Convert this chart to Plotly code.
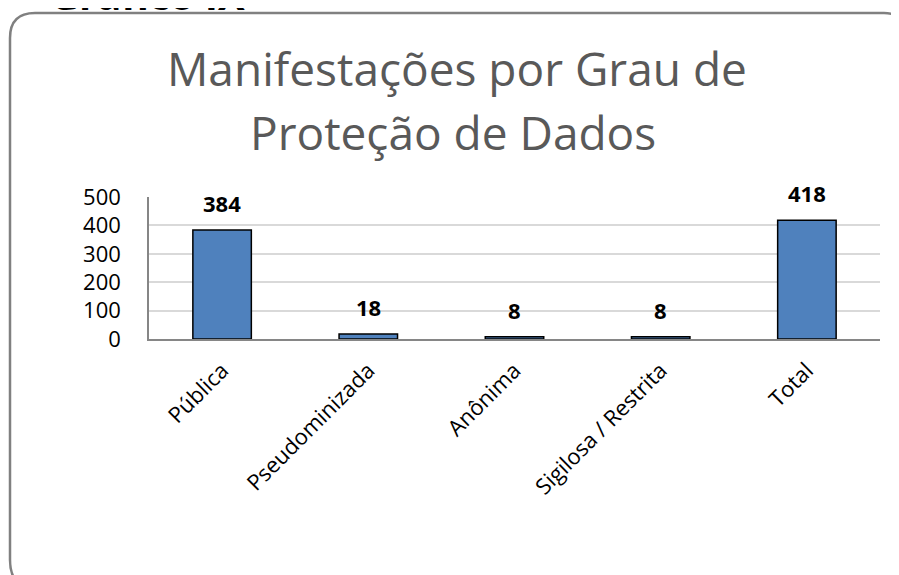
import plotly.graph_objects as go

# Data
categorias = ["Pública", "Pseudominizada", "Anônima", "Sigilosa / Restrita", "Total"]
valores = [384, 18, 8, 8, 418]
ticks_y = [0, 100, 200, 300, 400, 500]

# the page puts the plot 8px in from the top-left, so the figure is 8px smaller
OFF = 8
W, H = 899 - OFF, 575 - OFF
L, R, T, B = 149 - OFF, 19, 197 - OFF, 236
FONT = "Open Sans"


# page pixel -> paper coordinates (paper = plot area)
def px(x):
    return (x - OFF - L) / (W - L - R)


def py(y):
    return (H - B - (y - OFF)) / (H - T - B)


fig = go.Figure()

fig.add_trace(go.Bar(
    x=categorias,
    y=valores,
    width=0.4,
    marker=dict(color="#4F81BD", line=dict(color="#000000", width=1.5)),
    hoverinfo="x+y",
))

# value labels above bars
for c, v in zip(categorias, valores):
    fig.add_annotation(x=c, y=v, text="<b>%d</b>" % v, showarrow=False,
                       yanchor="bottom", yshift=10,
                       font=dict(family=FONT, size=22, color="#000000"))

# title, two lines
fig.add_annotation(xref="paper", yref="paper", x=px(457), y=py(68),
                   text="Manifestações por Grau de", showarrow=False,
                   xanchor="center", yanchor="middle",
                   font=dict(family=FONT, size=46, color="#595959"))
fig.add_annotation(xref="paper", yref="paper", x=px(453), y=py(132),
                   text="Proteção de Dados", showarrow=False,
                   xanchor="center", yanchor="middle",
                   font=dict(family=FONT, size=46, color="#595959"))

# heading cut off at the top of the page
fig.add_annotation(xref="paper", yref="paper", x=px(48), y=py(24),
                   text="<b>Gráfico IX</b>", showarrow=False,
                   xanchor="left", yanchor="bottom",
                   font=dict(family=FONT, size=40, color="#000000"))

# rounded frame around the chart (page pixels)
x0, x1, y0, y1 = 10, 906, 13, 590
r1, r2, r3 = 25, 22, 30
path = ("M {p0x},{p0y} Q {x0},{y0} {p1x},{y0} L {p2x},{y0} Q {x1},{y0} {x1},{p3y} "
        "L {x1},{y1} L {p4x},{y1} Q {x0},{y1} {x0},{p5y} Z").format(
    x0=px(x0), y0=py(y0), x1=px(x1), y1=py(y1),
    p0x=px(x0), p0y=py(y0 + r1), p1x=px(x0 + r1),
    p2x=px(x1 - r2), p3y=py(y0 + r2),
    p4x=px(x0 + r3), p5y=py(y1 - r3))
fig.add_shape(type="path", xref="paper", yref="paper", path=path,
              line=dict(color="#808080", width=2.5), layer="below")

fig.update_layout(
    width=W, height=H,
    margin=dict(l=L, r=R, t=T, b=B),
    paper_bgcolor="white",
    plot_bgcolor="white",
    showlegend=False,
    bargap=0.6,
    font=dict(family=FONT, color="#000000"),
)

fig.update_xaxes(
    tickangle=-45,
    tickfont=dict(family=FONT, size=22, color="#000000"),
    showline=True, linecolor="#868686", linewidth=2,
    showgrid=False, ticks="", ticklabelstandoff=8,
)

fig.update_yaxes(
    range=[0, 500],
    tickvals=ticks_y,
    tickfont=dict(family=FONT, size=22, color="#000000"),
    showgrid=True, gridcolor="#D9D9D9", gridwidth=1.5,
    showline=True, linecolor="#868686", linewidth=1.5,
    ticks="", ticklabelstandoff=22,
    zeroline=False,
)

fig.write_html("out.html")
